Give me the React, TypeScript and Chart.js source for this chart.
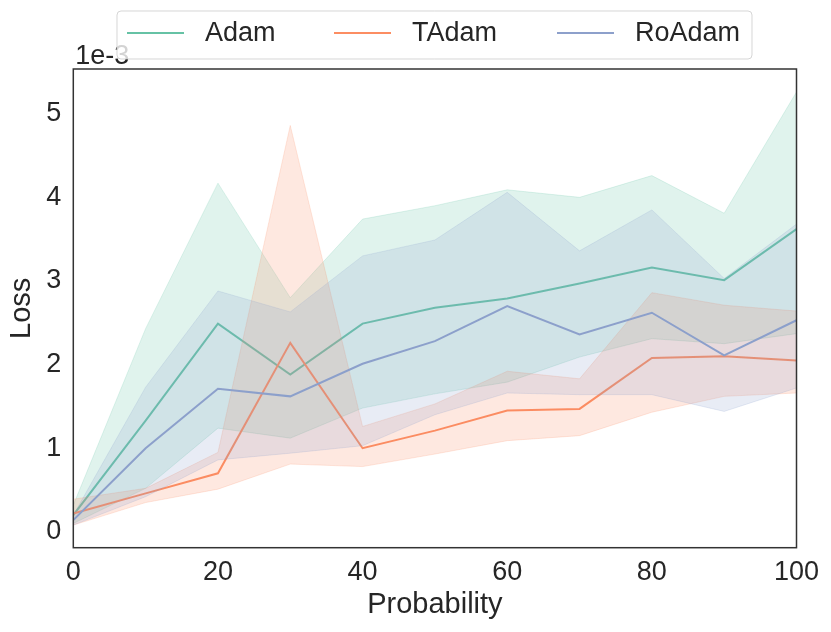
import React, { useRef, useEffect } from 'react';
import { Chart, registerables } from 'chart.js';

Chart.register(...registerables);

// x values (percent) and loss values shown in units of 1e-3
const probability = [0, 10, 20, 30, 40, 50, 60, 70, 80, 90, 100];
const seriesNames = ['Adam', 'TAdam', 'RoAdam'];

const adamMean = [0.2, 1.33, 2.49, 1.88, 2.49, 2.68, 2.79, 2.97, 3.16, 3.01, 3.62];
const adamUpper = [0.32, 2.43, 4.17, 2.8, 3.74, 3.9, 4.09, 4.0, 4.26, 3.81, 5.26];
const adamLower = [0.1, 0.52, 1.24, 1.12, 1.48, 1.65, 1.79, 2.09, 2.31, 2.25, 2.37];

const tadamMean = [0.22, 0.46, 0.7, 2.26, 1.0, 1.21, 1.45, 1.47, 2.08, 2.1, 2.05];
const tadamUpper = [0.39, 0.52, 0.95, 4.86, 1.26, 1.53, 1.92, 1.83, 2.86, 2.71, 2.64];
const tadamLower = [0.08, 0.35, 0.51, 0.81, 0.78, 0.93, 1.09, 1.15, 1.43, 1.62, 1.66];

const roadamMean = [0.14, 1.0, 1.71, 1.62, 2.01, 2.28, 2.7, 2.36, 2.62, 2.11, 2.53];
const roadamUpper = [0.2, 1.73, 2.88, 2.63, 3.3, 3.49, 4.06, 3.36, 3.85, 3.03, 3.68];
const roadamLower = [0.08, 0.42, 0.86, 0.94, 1.03, 1.4, 1.66, 1.64, 1.64, 1.44, 1.72];

const offsetLabel = '1e-3';

const colors = ['#66c2a5', '#fc8d62', '#8da0cb'];
const textColor = '#262626';
const fontFamily = '"Liberation Sans", Arial, sans-serif';

const rgba = (hex: string, a: number) => {
    const n = parseInt(hex.slice(1), 16);
    return `rgba(${(n >> 16) & 255}, ${(n >> 8) & 255}, ${n & 255}, ${a})`;
};

const toPoints = (ys: number[]) => probability.map((x, i) => ({ x, y: ys[i] }));

const decorPlugin = {
    id: 'decor',
    afterDraw(chart: Chart) {
        const { ctx, chartArea } = chart;
        ctx.save();
        // axes frame
        ctx.strokeStyle = '#333333';
        ctx.lineWidth = 1.5;
        ctx.strokeRect(chartArea.left, chartArea.top, chartArea.right - chartArea.left, chartArea.bottom - chartArea.top);

        // scale offset text
        ctx.fillStyle = textColor;
        ctx.font = `27px ${fontFamily}`;
        ctx.textAlign = 'left';
        ctx.textBaseline = 'alphabetic';
        ctx.fillText(offsetLabel, chartArea.left + 2, chartArea.top - 5);

        // legend
        const bx = 117, by = 11, bw = 635, bh = 48;
        ctx.beginPath();
        ctx.roundRect(bx, by, bw, bh, 4);
        ctx.fillStyle = 'rgba(255,255,255,0.8)';
        ctx.fill();
        ctx.strokeStyle = 'rgba(204,204,204,0.8)';
        ctx.lineWidth = 1;
        ctx.stroke();

        const lineStarts = [127, 334, 557];
        const cy = by + bh / 2 - 2;
        ctx.font = `27px ${fontFamily}`;
        ctx.textBaseline = 'middle';
        seriesNames.forEach((name, i) => {
            const x0 = lineStarts[i];
            ctx.strokeStyle = colors[i];
            ctx.lineWidth = 2;
            ctx.beginPath();
            ctx.moveTo(x0, cy);
            ctx.lineTo(x0 + 57, cy);
            ctx.stroke();
            ctx.fillStyle = textColor;
            ctx.fillText(name, x0 + 78, cy + 1);
        });
        ctx.restore();
    }
};

const LossChart: React.FC = () => {
    const chartRef = useRef<HTMLCanvasElement>(null);
    const chartInstance = useRef<Chart | null>(null);

    useEffect(() => {
        if (chartInstance.current) {
            chartInstance.current.destroy();
        }
        const ctx = chartRef.current?.getContext('2d');
        if (!ctx) return;

        const groups = [
            { mean: adamMean, lower: adamLower, upper: adamUpper },
            { mean: tadamMean, lower: tadamLower, upper: tadamUpper },
            { mean: roadamMean, lower: roadamLower, upper: roadamUpper },
        ];

        const datasets: any[] = [];
        groups.forEach((g, i) => {
            const c = colors[i];
            const order = (groups.length - i) * 2;
            const lowIndex = datasets.length + 1;
            datasets.push({
                label: seriesNames[i],
                data: toPoints(g.mean),
                borderColor: c,
                borderWidth: 2,
                pointRadius: 0,
                fill: false,
                tension: 0,
                order: order + 1,
            });
            datasets.push({
                label: seriesNames[i] + ' low',
                data: toPoints(g.lower),
                borderColor: rgba(c, 0.2),
                borderWidth: 1,
                pointRadius: 0,
                fill: false,
                order: order,
            });
            datasets.push({
                label: seriesNames[i] + ' high',
                data: toPoints(g.upper),
                borderColor: rgba(c, 0.2),
                borderWidth: 1,
                pointRadius: 0,
                backgroundColor: rgba(c, 0.2),
                fill: lowIndex,
                order: order,
            });
        });

        chartInstance.current = new Chart(ctx, {
            type: 'line',
            data: { datasets },
            options: {
                responsive: false,
                animation: false,
                layout: { padding: { top: 69, right: 34.5, left: 0, bottom: 0 } },
                plugins: {
                    legend: { display: false },
                    tooltip: { enabled: false },
                },
                scales: {
                    x: {
                        type: 'linear',
                        min: 0,
                        max: 100,
                        grid: { display: false, drawTicks: false },
                        border: { display: false },
                        ticks: {
                            stepSize: 20,
                            padding: 9,
                            color: textColor,
                            font: { family: fontFamily, size: 27 },
                        },
                        title: {
                            display: true,
                            text: 'Probability',
                            color: textColor,
                            font: { family: fontFamily, size: 29 },
                            padding: { top: 0, bottom: 10 },
                        },
                        afterFit: (scale: any) => { scale.height = 84.3; },
                    },
                    y: {
                        type: 'linear',
                        min: -0.19,
                        max: 5.535,
                        grid: { display: false, drawTicks: false },
                        border: { display: false },
                        ticks: {
                            stepSize: 1,
                            includeBounds: false,
                            padding: 12,
                            color: textColor,
                            font: { family: fontFamily, size: 27 },
                        },
                        title: {
                            display: true,
                            text: 'Loss',
                            color: textColor,
                            font: { family: fontFamily, size: 29 },
                            padding: { top: 5, bottom: 0 },
                        },
                        afterFit: (scale: any) => { scale.width = 73.3; },
                    },
                },
            },
            plugins: [decorPlugin],
        });

        return () => {
            chartInstance.current?.destroy();
        };
    }, []);

    return (
        <div style={{ position: 'absolute', left: 0, top: 0, width: 831, height: 632 }}>
            <canvas ref={chartRef} width={831} height={632} style={{ display: 'block' }}></canvas>
        </div>
    );
};

export default function App() {
    return <LossChart />;
}
